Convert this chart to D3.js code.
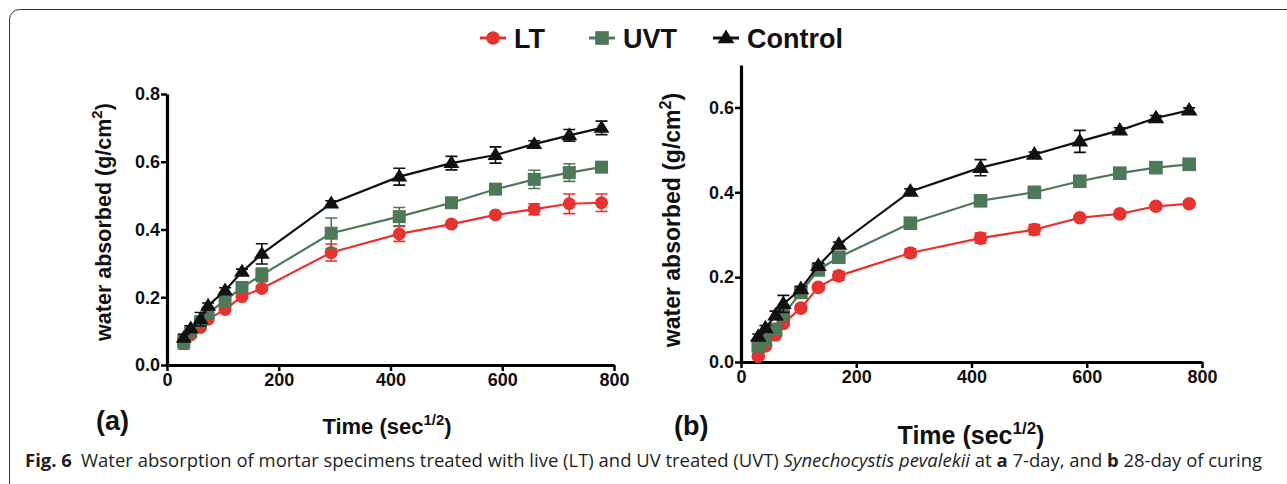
<!DOCTYPE html>
<html>
<head>
<meta charset="utf-8">
<script src="https://cdn.jsdelivr.net/npm/d3@7"></script>
<style>
  body { margin: 0; background: #fff; }
  svg { display: block; }
</style>
</head>
<body>
<script>
// time points, sqrt(seconds)
var times = [30, 42.4, 60, 73.5, 103.9, 134.2, 169.7, 293.9, 415.7, 509.1, 587.9, 657.3, 720, 777.7];

// (a) 7-day
var ltA   = [0.064, 0.089, 0.111, 0.135, 0.164, 0.202, 0.226, 0.332, 0.387, 0.416, 0.443, 0.460, 0.476, 0.479];
var ltAErr= [0.008, 0.005, 0.005, 0.005, 0.006, 0.005, 0.008, 0.025, 0.022, 0.008, 0.008, 0.016, 0.029, 0.026];
var uvtA   = [0.069, 0.098, 0.128, 0.153, 0.190, 0.229, 0.266, 0.389, 0.438, 0.479, 0.519, 0.548, 0.568, 0.584];
var uvtAErr= [0.022, 0.008, 0.008, 0.008, 0.010, 0.012, 0.020, 0.045, 0.027, 0.008, 0.010, 0.027, 0.026, 0.012];
var ctrlA   = [0.080, 0.108, 0.135, 0.175, 0.220, 0.275, 0.328, 0.477, 0.556, 0.596, 0.620, 0.652, 0.678, 0.700];
var ctrlAErr= [0.010, 0.008, 0.020, 0.008, 0.008, 0.008, 0.030, 0.008, 0.025, 0.020, 0.024, 0.010, 0.017, 0.020];

// (b) 28-day
var ltB   = [0.014, 0.038, 0.064, 0.091, 0.127, 0.176, 0.203, 0.257, 0.292, 0.312, 0.340, 0.349, 0.367, 0.373];
var ltBErr= [0.005, 0.005, 0.005, 0.006, 0.006, 0.006, 0.010, 0.010, 0.012, 0.012, 0.006, 0.006, 0.006, 0.006];
var uvtB   = [0.038, 0.052, 0.077, 0.111, 0.164, 0.217, 0.247, 0.327, 0.380, 0.400, 0.426, 0.445, 0.458, 0.466];
var uvtBErr= [0.005, 0.005, 0.005, 0.006, 0.006, 0.006, 0.006, 0.006, 0.006, 0.006, 0.006, 0.006, 0.006, 0.006];
var ctrlB   = [0.060, 0.080, 0.110, 0.137, 0.172, 0.227, 0.277, 0.402, 0.458, 0.489, 0.520, 0.546, 0.575, 0.593];
var ctrlBErr= [0.006, 0.006, 0.010, 0.020, 0.006, 0.006, 0.006, 0.006, 0.019, 0.006, 0.026, 0.006, 0.006, 0.006];

var seriesNames = ["LT", "UVT", "Control"];
var colors = {LT: "#e63330", UVT: "#4e7858", Control: "#111111"};
var xTicks = [0, 200, 400, 600, 800];
var yTicksA = [0.0, 0.2, 0.4, 0.6, 0.8];
var yTicksB = [0.0, 0.2, 0.4, 0.6];

var W = 1287, H = 484;
var font = "'Liberation Sans', Arial, sans-serif";

var svg = d3.select("body").append("svg")
    .attr("width", W).attr("height", H);

// frame
svg.append("rect")
    .attr("x", 9.5).attr("y", 9.5)
    .attr("width", 1300).attr("height", 500)
    .attr("rx", 10).attr("ry", 10)
    .attr("fill", "none").attr("stroke", "#333").attr("stroke-width", 1);

function marker(g, name, x, y, s) {
    if (name == "LT") {
        g.append("circle").attr("cx", x).attr("cy", y).attr("r", 6.5 * s)
            .attr("fill", colors.LT);
    } else if (name == "UVT") {
        g.append("rect").attr("x", x - 6.5 * s).attr("y", y - 6.5 * s)
            .attr("width", 13 * s).attr("height", 13 * s).attr("fill", colors.UVT);
    } else {
        var r = 8 * s;
        g.append("path")
            .attr("d", "M" + x + "," + (y - r) + "L" + (x + r) + "," + (y + r * 0.62) + "L" + (x - r) + "," + (y + r * 0.62) + "Z")
            .attr("fill", colors.Control);
    }
}

function panel(opt) {
    var x = d3.scaleLinear().domain([0, 800]).range(opt.xr);
    var y = d3.scaleLinear().domain([0, opt.ymax]).range(opt.yr);
    var g = svg.append("g");

    var xAxis = g.append("g").attr("transform", "translate(0," + opt.yr[0] + ")")
        .call(d3.axisBottom(x).tickValues(xTicks).tickSize(6).tickSizeOuter(0).tickPadding(2));
    var yAxis = g.append("g").attr("transform", "translate(" + opt.xr[0] + ",0)")
        .call(d3.axisLeft(y).tickValues(opt.yTicks).tickSize(6).tickSizeOuter(0).tickPadding(1)
              .tickFormat(d3.format(".1f")));
    [xAxis, yAxis].forEach(function(a) {
        a.select(".domain").attr("stroke", "#000").attr("stroke-width", 3.2);
        a.selectAll(".tick line").attr("stroke", "#000").attr("stroke-width", 2.5);
        a.selectAll("text").attr("fill", "#111").attr("font-family", font)
            .attr("font-weight", "bold").attr("font-size", opt.tickFs);
    });

    var data = opt.data;
    seriesNames.forEach(function(name) {
        var vals = data[name][0], errs = data[name][1];
        var pts = times.map(function(t, i) { return {t: t, v: vals[i], e: errs[i]}; });
        var sg = g.append("g");
        sg.append("path").datum(pts)
            .attr("fill", "none").attr("stroke", colors[name]).attr("stroke-width", 2.2)
            .attr("d", d3.line().x(function(d) { return x(d.t); }).y(function(d) { return y(d.v); }));
        pts.forEach(function(d) {
            var cx = x(d.t), y1 = y(d.v - d.e), y2 = y(d.v + d.e);
            sg.append("path")
                .attr("d", "M" + cx + "," + y1 + "V" + y2 + "M" + (cx - 6) + "," + y1 + "H" + (cx + 6) + "M" + (cx - 6) + "," + y2 + "H" + (cx + 6))
                .attr("stroke", colors[name]).attr("stroke-width", 1.6).attr("fill", "none");
            marker(sg, name, cx, y(d.v), opt.ms);
        });
    });

    // axis titles
    var yl = g.append("text")
        .attr("transform", "translate(" + opt.ylab[0] + "," + opt.ylab[1] + ") rotate(-90)")
        .attr("text-anchor", "middle").attr("font-family", font).attr("font-weight", "bold")
        .attr("font-size", opt.yFs).attr("fill", "#111");
    yl.append("tspan").text("water absorbed (g/cm");
    yl.append("tspan").attr("dy", -opt.yFs * 0.4).attr("font-size", opt.yFs * 0.7).text("2");
    yl.append("tspan").attr("dy", opt.yFs * 0.4).text(")");

    var xl = g.append("text")
        .attr("x", opt.xlab[0]).attr("y", opt.xlab[1])
        .attr("text-anchor", "middle").attr("font-family", font).attr("font-weight", "bold")
        .attr("font-size", opt.xFs).attr("fill", "#111");
    xl.append("tspan").text("Time (sec");
    xl.append("tspan").attr("dy", -opt.xFs * 0.42).attr("font-size", opt.xFs * 0.68).text("1/2");
    xl.append("tspan").attr("dy", opt.xFs * 0.42).text(")");

    g.append("text").attr("x", opt.tag[0]).attr("y", opt.tag[1])
        .attr("font-family", font).attr("font-weight", "bold").attr("font-size", 27)
        .attr("fill", "#111").text(opt.tagText);
}

panel({
    xr: [167, 614], yr: [365, 94], ymax: 0.8, yTicks: yTicksA,
    data: {LT: [ltA, ltAErr], UVT: [uvtA, uvtAErr], Control: [ctrlA, ctrlAErr]},
    tickFs: 18, yFs: 21.5, xFs: 22, ms: 1,
    ylab: [111, 222], xlab: [387, 434], tag: [96, 430], tagText: "(a)"
});

panel({
    xr: [741, 1202], yr: [362, 65], ymax: 0.7, yTicks: yTicksB,
    data: {LT: [ltB, ltBErr], UVT: [uvtB, uvtBErr], Control: [ctrlB, ctrlBErr]},
    tickFs: 18, yFs: 23, xFs: 25, ms: 1.05,
    ylab: [680, 220], xlab: [971, 444], tag: [674, 435], tagText: "(b)"
});

// legend
var legend = svg.append("g");
var legX = [493, 602, 726];
seriesNames.forEach(function(name, i) {
    var cx = legX[i];
    legend.append("line").attr("x1", cx - 13).attr("x2", cx + 13)
        .attr("y1", 38).attr("y2", 38).attr("stroke", colors[name]).attr("stroke-width", 3);
    marker(legend, name, cx, 38, 1.05);
    legend.append("text").attr("x", cx + 21).attr("y", 48)
        .attr("font-family", font).attr("font-weight", "bold").attr("font-size", 27)
        .attr("fill", "#111").text(name);
});

// caption
var cap = svg.append("text").attr("x", 25).attr("y", 467)
    .attr("font-family", "'Open Sans', 'Noto Sans', sans-serif").attr("font-size", 18)
    .attr("fill", "#231f20")
    .attr("textLength", 1237).attr("lengthAdjust", "spacingAndGlyphs");
cap.append("tspan").attr("font-weight", "bold").text("Fig. 6");
cap.append("tspan").text("\u2002Water absorption of mortar specimens treated with live (LT) and UV treated (UVT) ");
cap.append("tspan").attr("font-style", "italic").text("Synechocystis pevalekii");
cap.append("tspan").text(" at ");
cap.append("tspan").attr("font-weight", "bold").text("a");
cap.append("tspan").text(" 7-day, and ");
cap.append("tspan").attr("font-weight", "bold").text("b");
cap.append("tspan").text(" 28-day of curing");
</script>
</body>
</html>
